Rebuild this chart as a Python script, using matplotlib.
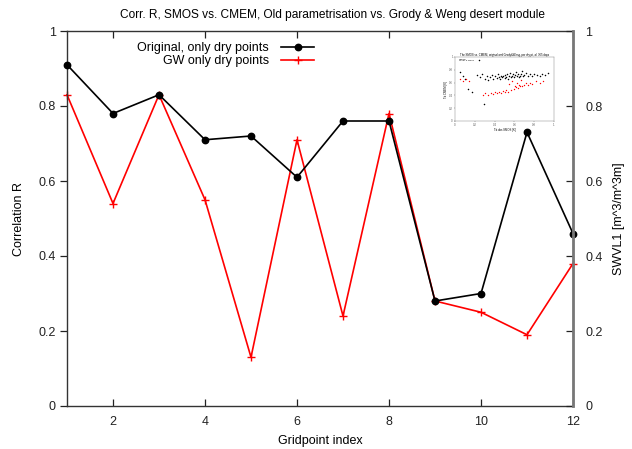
import matplotlib
matplotlib.use("Agg")
import matplotlib.pyplot as plt

plt.rcParams['font.family'] = ['Liberation Sans', 'DejaVu Sans']

gridpoints = [1, 2, 3, 4, 5, 6, 7, 8, 9, 10, 11, 12]
original_r = [0.91, 0.78, 0.83, 0.71, 0.72, 0.61, 0.76, 0.76, 0.28, 0.30, 0.73, 0.46]
gw_r = [0.83, 0.54, 0.83, 0.55, 0.13, 0.71, 0.24, 0.78, 0.28, 0.25, 0.19, 0.38]

y_ticks = [0, 0.2, 0.4, 0.6, 0.8, 1]
y_ticklabels = ["0", "0.2", "0.4", "0.6", "0.8", "1"]
x_ticks = [2, 4, 6, 8, 10, 12]
x_ticklabels = ["2", "4", "6", "8", "10", "12"]

title = "Corr. R, SMOS vs. CMEM, Old parametrisation vs. Grody & Weng desert module"
label_orig = "Original, only dry points"
label_gw = "GW only dry points"

# small embedded scatter picture (normalised units)
inset_black_x = [0.05, 0.08, 0.10, 0.13, 0.17, 0.22, 0.245, 0.25, 0.27, 0.29, 0.30, 0.32,
                 0.33, 0.35, 0.37, 0.38, 0.40, 0.42, 0.43, 0.44, 0.45, 0.46, 0.47, 0.48,
                 0.50, 0.51, 0.52, 0.53, 0.54, 0.55, 0.56, 0.57, 0.58, 0.59, 0.60, 0.61,
                 0.62, 0.63, 0.64, 0.65, 0.66, 0.67, 0.68, 0.69, 0.70, 0.72, 0.74, 0.76,
                 0.78, 0.80, 0.83, 0.86, 0.88, 0.91, 0.94]
inset_black_y = [0.77, 0.70, 0.66, 0.50, 0.45, 0.72, 0.95, 0.68, 0.73, 0.26, 0.66, 0.70,
                 0.64, 0.68, 0.72, 0.66, 0.70, 0.67, 0.74, 0.69, 0.66, 0.71, 0.68, 0.70,
                 0.67, 0.72, 0.69, 0.73, 0.66, 0.70, 0.75, 0.68, 0.71, 0.74, 0.69, 0.72,
                 0.76, 0.70, 0.73, 0.68, 0.71, 0.74, 0.78, 0.70, 0.72, 0.75, 0.71, 0.73,
                 0.70, 0.74, 0.72, 0.71, 0.73, 0.72, 0.75]
inset_red_x = [0.05, 0.08, 0.11, 0.14, 0.28, 0.30, 0.33, 0.36, 0.38, 0.40, 0.42, 0.44,
               0.46, 0.48, 0.50, 0.52, 0.54, 0.55, 0.57, 0.58, 0.60, 0.61, 0.62, 0.63,
               0.64, 0.65, 0.66, 0.67, 0.68, 0.70, 0.72, 0.74, 0.76, 0.78, 0.82, 0.86,
               0.89]
inset_red_y = [0.66, 0.63, 0.65, 0.62, 0.40, 0.43, 0.41, 0.44, 0.42, 0.45, 0.43, 0.46,
               0.44, 0.47, 0.45, 0.48, 0.46, 0.58, 0.49, 0.62, 0.50, 0.55, 0.53, 0.60,
               0.51, 0.56, 0.54, 0.64, 0.55, 0.57, 0.59, 0.56, 0.60, 0.58, 0.63, 0.60,
               0.62]
inset_ticks = [0, 0.2, 0.4, 0.6, 0.8, 1.0]

fig = plt.figure(figsize=(6.32, 4.49), dpi=100)
ax = fig.add_axes([67 / 632, 1 - 406 / 449, (573 - 67) / 632, (406 - 31) / 449])

ax.plot(gridpoints, original_r, color='black', lw=1.2, marker='o', ms=4.6,
        label=label_orig, zorder=3, clip_on=False)
ax.plot(gridpoints, gw_r, color='#ff0000', lw=1.2, marker='+', ms=6, mew=1.0,
        label=label_gw, zorder=2, clip_on=False)

ax.set_xlim(1, 12)
ax.set_ylim(0, 1)
ax.set_xticks(x_ticks)
ax.set_xticklabels(x_ticklabels)
ax.set_yticks(y_ticks)
ax.set_yticklabels(y_ticklabels)
ax.tick_params(axis='x', direction='in', top=True, length=5, width=0.9,
               labelsize=9, pad=7, colors='#222222')
ax.tick_params(axis='y', direction='out', length=5, width=0.9, labelsize=9,
               pad=3, colors='#222222')
for s in ['left', 'bottom', 'top']:
    ax.spines[s].set_color('#333333')
    ax.spines[s].set_linewidth(1.0)
ax.spines['right'].set_visible(False)

ax.set_xlabel("Gridpoint index", fontsize=9, labelpad=5)
ax.set_ylabel("Correlation R", fontsize=9, labelpad=10)
fig.text(333 / 632, 1 - 15 / 449, title, fontsize=8.6, ha='center', va='center')

ax2 = ax.twinx()
ax2.set_ylim(0, 1)
ax2.set_yticks(y_ticks)
ax2.set_yticklabels(y_ticklabels)
ax2.tick_params(axis='y', direction='in', length=5, width=0.9, labelsize=9,
                pad=9, colors='#222222')
ax2.spines['right'].set_color('#777777')
ax2.spines['right'].set_linewidth(2.0)
for s in ['left', 'bottom', 'top']:
    ax2.spines[s].set_visible(False)
ax2.set_ylabel("SWVL1 [m^3/m^3m]", fontsize=9, labelpad=7)

leg = ax.legend(loc='upper right', bbox_to_anchor=(320 / 632, 1 - 36 / 449),
                bbox_transform=fig.transFigure, frameon=False, markerfirst=False,
                fontsize=9, handlelength=2.6, labelspacing=0.05, borderpad=0,
                handletextpad=1.0)

# inset picture
axi = fig.add_axes([455 / 632, 1 - 121 / 449, 99 / 632, 64 / 449])
axi.scatter(inset_black_x, inset_black_y, s=1.2, color='black', lw=0)
axi.scatter(inset_red_x, inset_red_y, s=1.0, color='#ff0000', lw=0)
axi.set_xlim(0, 1)
axi.set_ylim(0, 1)
axi.set_xticks(inset_ticks)
axi.set_yticks(inset_ticks)
axi.set_xticklabels(["0", "0.2", "0.4", "0.6", "0.8", "1"])
axi.set_yticklabels(["0", "0.2", "0.4", "0.6", "0.8", "1"])
axi.tick_params(labelsize=2, length=1, width=0.3, pad=0.5, colors='#555555')
for s in axi.spines.values():
    s.set_linewidth(0.3)
    s.set_color('#777777')
axi.set_title("The SMOS vs. CMEM, original and Grody&Weng, per dry pt, all 365 days",
              fontsize=2, pad=1)
axi.set_xlabel("Tb obs SMOS [K]", fontsize=2, labelpad=0.5)
axi.set_ylabel("Tb CMEM [K]", fontsize=2, labelpad=0.5)
axi.text(0.04, 0.97, "Original\nGrody & Weng", fontsize=1.6, va='top',
         transform=axi.transAxes)

fig.savefig("out.png", dpi=100)
